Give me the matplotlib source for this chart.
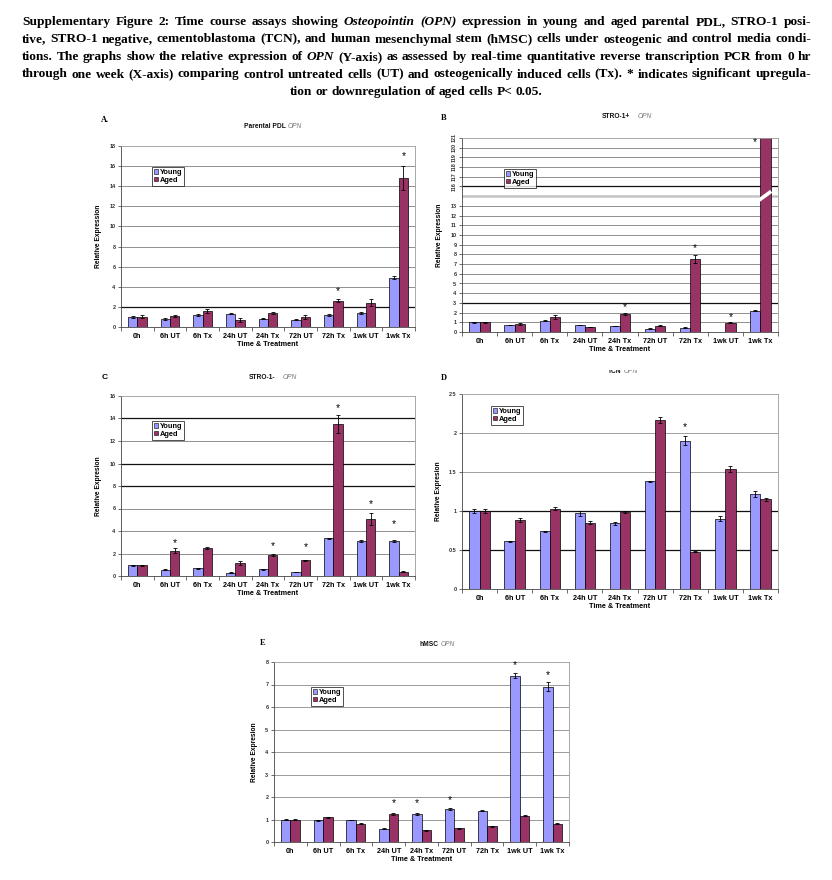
import numpy as np
import matplotlib
matplotlib.use('Agg')
import matplotlib.pyplot as plt
from matplotlib.transforms import Bbox, TransformedBbox

W, H = 832, 880

categories = ['0h', '6h UT', '6h Tx', '24h UT', '24h Tx', '72h UT', '72h Tx', '1wk UT', '1wk Tx']
series_names = ['Young', 'Aged']

# Panel A: Parental PDL
a_young = [1.0, 0.8, 1.2, 1.3, 0.8, 0.7, 1.2, 1.4, 4.9]
a_young_err = [0.12, 0.08, 0.1, 0.05, 0.05, 0.05, 0.08, 0.06, 0.15]
a_aged = [1.0, 1.1, 1.6, 0.7, 1.4, 1.0, 2.6, 2.4, 14.8]
a_aged_err = [0.15, 0.08, 0.22, 0.2, 0.12, 0.2, 0.15, 0.35, 1.2]
a_stars = [(6, 'aged', 3.6), (8, 'aged', 17.0)]

# Panel B: STRO-1+ (broken axis 13 -> 116)
b_young = [1.0, 0.72, 1.15, 0.72, 0.62, 0.35, 0.45, np.nan, 2.2]
b_young_err = [0.03, 0.03, 0.04, 0.02, 0.03, 0.02, 0.04, 0.0, 0.08]
b_aged = [1.0, 0.8, 1.55, 0.52, 1.85, 0.65, 7.55, 0.95, 121.5]
b_aged_err = [0.05, 0.1, 0.25, 0.03, 0.1, 0.04, 0.4, 0.04, 0.0]
b_stars = [(4, 'aged', 2.6), (6, 'aged', 8.7), (7, 'aged', 1.55), (8, 'young', 120.6)]
b_tick_values = [0, 1, 2, 3, 4, 5, 6, 7, 8, 9, 10, 11, 12, 13, 116, 117, 118, 119, 120, 121]

# Panel C: STRO-1-
c_young = [0.95, 0.55, 0.7, 0.3, 0.6, 0.35, 3.35, 3.1, 3.1]
c_young_err = [0.03, 0.03, 0.04, 0.02, 0.04, 0.03, 0.05, 0.1, 0.06]
c_aged = [0.95, 2.25, 2.5, 1.15, 1.9, 1.4, 13.55, 5.05, 0.4]
c_aged_err = [0.04, 0.2, 0.12, 0.15, 0.1, 0.06, 0.8, 0.55, 0.06]
c_stars = [(1, 'aged', 2.9), (4, 'aged', 2.7), (5, 'aged', 2.6), (6, 'aged', 14.9), (7, 'aged', 6.4), (8, 'young', 4.6)]

# Panel D: TCN
d_young = [1.0, 0.61, 0.74, 0.97, 0.84, 1.38, 1.9, 0.9, 1.22]
d_young_err = [0.02, 0.006, 0.006, 0.03, 0.02, 0.01, 0.06, 0.03, 0.04]
d_aged = [1.0, 0.88, 1.03, 0.85, 0.99, 2.17, 0.48, 1.54, 1.15]
d_aged_err = [0.03, 0.025, 0.015, 0.02, 0.015, 0.04, 0.01, 0.04, 0.02]
d_stars = [(6, 'young', 2.07)]

# Panel E: hMSC
e_young = [1.0, 0.96, 0.98, 0.6, 1.25, 1.47, 1.4, 7.4, 6.9]
e_young_err = [0.02, 0.03, 0.02, 0.02, 0.03, 0.04, 0.02, 0.12, 0.2]
e_aged = [1.0, 1.1, 0.82, 1.23, 0.52, 0.62, 0.7, 1.17, 0.82]
e_aged_err = [0.02, 0.03, 0.02, 0.05, 0.01, 0.02, 0.03, 0.03, 0.02]
e_stars = [(3, 'aged', 1.72), (4, 'young', 1.72), (5, 'young', 1.87), (7, 'young', 7.88), (8, 'young', 7.43)]

caption_lines = [
    [("Supplementary Figure 2: Time course assays showing", False), ("Osteopointin (OPN)", True),
     ("expression in young and aged parental PDL, STRO-1 posi-", False)],
    [("tive, STRO-1 negative, cementoblastoma (TCN), and human mesenchymal stem (hMSC) cells under osteogenic and control media condi-", False)],
    [("tions. The graphs show the relative expression of", False), ("OPN", True),
     ("(Y-axis) as assessed by real-time quantitative reverse transcription PCR from 0 hr", False)],
    [("through one week (X-axis) comparing control untreated cells (UT) and osteogenically induced cells (Tx). * indicates significant upregula-", False)],
    [("tion or downregulation of aged cells P< 0.05.", False)],
]

YOUNG_C = '#9999FF'
AGED_C = '#993366'
SANS = 'Liberation Sans'
SERIF = 'Liberation Serif'

fig = plt.figure(figsize=(W / 100, H / 100), dpi=100)
renderer = fig.canvas.get_renderer()


def fx(x):
    return x / W


def fy(y):
    return 1 - y / H


def text_width(s, **kw):
    t = fig.text(0, 0, s, **kw)
    w = t.get_window_extent(renderer).width
    t.remove()
    return w


def rich(x_px, y_px, segs, gap_px=None, clip=None):
    objs, widths = [], []
    for s, p in segs:
        t = fig.text(0, 0, s, ha='left', va='center', **p)
        objs.append(t)
        widths.append(t.get_window_extent(renderer).width)
    if gap_px is None:
        gap_px = text_width('a a', **segs[0][1]) - text_width('aa', **segs[0][1])
    total = sum(widths) + gap_px * (len(segs) - 1)
    x = x_px - total / 2
    for t, w in zip(objs, widths):
        t.set_position((fx(x), fy(y_px)))
        if clip is not None:
            t.set_clip_box(clip)
            t.set_clip_on(True)
        x += w + gap_px


# ---------------- caption ----------------
def caption_words(line):
    words = []
    for s, it in line:
        for w in s.split(' '):
            if w:
                words.append((w, it))
    return words


def cap_props(fs, it):
    return dict(family=SERIF, weight='bold', style='italic' if it else 'normal', fontsize=fs)


fs0 = 10.0
left, right = 22, 811
target = right - left
maxnat = 0
for line in caption_lines[:4]:
    ws = caption_words(line)
    sp = text_width('a a', **cap_props(fs0, False)) - text_width('aa', **cap_props(fs0, False))
    nat = sum(text_width(w, **cap_props(fs0, it)) for w, it in ws) + sp * (len(ws) - 1)
    maxnat = max(maxnat, nat)
fs = fs0 * min(1.0, target / maxnat * 0.995)

line_y = [22, 39.5, 57, 74.5, 92]
for li, line in enumerate(caption_lines):
    ws = caption_words(line)
    wid = [text_width(w, **cap_props(fs, it)) for w, it in ws]
    sp = text_width('a a', **cap_props(fs, False)) - text_width('aa', **cap_props(fs, False))
    if li < 4:
        gap = (target - sum(wid)) / (len(ws) - 1)
        x = left
    else:
        gap = sp
        x = W / 2 - (sum(wid) + sp * (len(ws) - 1)) / 2
    for (w, it), wd in zip(ws, wid):
        fig.text(fx(x), fy(line_y[li]), w, ha='left', va='center', **cap_props(fs, it))
        x += wd + gap


# ---------------- panels ----------------
def panel(rect, young, young_err, aged, aged_err, ylim, yticks, yticklabels, grid_specs,
          stars, ylabel, legend_px, fmap=None, ytick_rot=0):
    x0, y0, x1, y1 = rect
    ax = fig.add_axes([fx(x0), fy(y1), (x1 - x0) / W, (y1 - y0) / H])
    if fmap is None:
        fmap = lambda v: v
    x = np.arange(len(categories))
    w = 0.29
    yv = np.array([fmap(v) for v in young], dtype=float)
    av = np.array([fmap(v) for v in aged], dtype=float)
    ax.bar(x - w / 2, yv, w, color=YOUNG_C, edgecolor='black', linewidth=0.5, label=series_names[0], zorder=2)
    ax.bar(x + w / 2, av, w, color=AGED_C, edgecolor='black', linewidth=0.5, label=series_names[1], zorder=2)
    ye = np.array(young_err, dtype=float)
    ae = np.array(aged_err, dtype=float)
    m = (~np.isnan(yv)) & (ye > 0)
    ax.errorbar((x - w / 2)[m], yv[m], yerr=ye[m], fmt='none', ecolor='black', elinewidth=0.6,
                capsize=1.3, capthick=0.6, zorder=3)
    m = (~np.isnan(av)) & (ae > 0)
    ax.errorbar((x + w / 2)[m], av[m], yerr=ae[m], fmt='none', ecolor='black', elinewidth=0.6,
                capsize=1.3, capthick=0.6, zorder=3)
    for ci, ser, yy in stars:
        xs = ci - w / 2 if ser == 'young' else ci + w / 2
        ax.text(xs, fmap(yy), '*', ha='center', va='center', fontsize=7.5, family=SANS, zorder=4)
    for pos, col, lw in grid_specs:
        ax.axhline(pos, color=col, linewidth=lw, zorder=1)
    ax.set_xlim(-0.5, len(categories) - 0.5)
    ax.set_ylim(*ylim)
    ax.set_yticks(yticks)
    ax.set_yticklabels(yticklabels, fontsize=4, family=SANS, weight='bold')
    if ytick_rot:
        for lab in ax.get_yticklabels():
            if lab.get_text() in ('116', '117', '118', '119', '120', '121'):
                lab.set_rotation(90)
                lab.set_va('center')
    ax.tick_params(axis='y', direction='out', length=2, width=0.5, pad=2, colors='#333333')
    ax.set_xticks(np.arange(-0.5, len(categories), 1.0))
    ax.set_xticklabels([])
    ax.set_xticks(x, minor=True)
    ax.set_xticklabels(categories, minor=True, fontsize=5.2, family=SANS, weight='bold')
    ax.tick_params(axis='x', which='major', direction='out', length=3, width=0.5, colors='#333333')
    ax.tick_params(axis='x', which='minor', length=0, pad=4)
    ax.set_xlabel('Time & Treatment', fontsize=5.2, family=SANS, weight='bold', labelpad=1)
    ax.set_ylabel(ylabel, fontsize=4.8, family=SANS, weight='bold', labelpad=5)
    for s in ('top', 'right'):
        ax.spines[s].set_color('#9a9a9a')
        ax.spines[s].set_linewidth(0.6)
    for s in ('left', 'bottom'):
        ax.spines[s].set_color('#444444')
        ax.spines[s].set_linewidth(0.6)
    lx, ly = legend_px
    leg = ax.legend(loc='upper left', bbox_to_anchor=(fx(lx), fy(ly)), bbox_transform=fig.transFigure,
                    prop=dict(family=SANS, weight='bold', size=5.3), frameon=True, fancybox=False,
                    handlelength=0.6, handleheight=0.6, handletextpad=0.2, borderpad=0.25,
                    labelspacing=0.12, borderaxespad=0)
    leg.get_frame().set_edgecolor('black')
    leg.get_frame().set_linewidth(0.6)
    for h in leg.legend_handles:
        h.set_linewidth(0.4)
    return ax


def grid_std(vals, dark=(), col='#8f8f8f'):
    out = []
    for v in vals:
        if v in dark:
            out.append((v, '#111111', 0.9))
        else:
            out.append((v, col, 0.7))
    return out


# A
ticksA = list(range(0, 19, 2))
panel((121, 146, 415, 327), a_young, a_young_err, a_aged, a_aged_err, (0, 18), ticksA,
      [str(t) for t in ticksA], grid_std(ticksA[1:-1], dark=(2,)), a_stars, 'Relative Expression', (152, 167))


# B
def bmap(v):
    return v if v <= 14 else v - 101


posB = [bmap(v) for v in b_tick_values]
gridB = []
for p in range(1, 20):
    if p == 14:
        gridB.append((p, '#c4c4c4', 1.8))
    elif p in (3, 15):
        gridB.append((p, '#111111', 0.9))
    else:
        gridB.append((p, '#8f8f8f', 0.7))
axB = panel((462, 138, 778, 332), b_young, b_young_err, b_aged, b_aged_err, (0, 20), posB,
            [str(v) for v in b_tick_values], gridB, b_stars, 'Relative Expression', (504, 169),
            fmap=bmap, ytick_rot=1)
# break mark on the tall bar
xb = 8 + 0.29 / 2
axB.plot([xb - 0.2, xb + 0.16], [13.55, 14.5], color='white', linewidth=2.6, solid_capstyle='butt',
         zorder=5, clip_on=False)

# C
ticksC = list(range(0, 17, 2))
panel((121, 396, 415, 576), c_young, c_young_err, c_aged, c_aged_err, (0, 16), ticksC,
      [str(t) for t in ticksC], grid_std(ticksC[1:-1], dark=(10, 14, 8)), c_stars, 'Relative Expresion', (152, 421))

# D
ticksD = [0, 0.5, 1, 1.5, 2, 2.5]
panel((462, 394, 778, 589), d_young, d_young_err, d_aged, d_aged_err, (0, 2.5), ticksD,
      ['0', '0.5', '1', '1.5', '2', '2.5'], grid_std(ticksD[1:-1], dark=(0.5, 1), col='#a0a0a0'), d_stars,
      'Relative Expresion', (491, 406))

# E
ticksE = list(range(0, 9))
panel((274, 662, 569, 842), e_young, e_young_err, e_aged, e_aged_err, (0, 8), ticksE,
      [str(t) for t in ticksE], grid_std(ticksE[1:-1], col='#9a9a9a'), e_stars, 'Relative Expresion', (311, 687))

# ---------------- titles & letters ----------------
tb = dict(family=SANS, weight='bold', fontsize=4.8, color='#111111')
ti = dict(family=SANS, style='italic', fontsize=4.8, color='#777777')
rich(273, 126, [('Parental PDL', tb), ('OPN', ti)])
rich(627, 117, [('STRO-1+', tb), ('OPN', ti)], gap_px=7)
rich(273, 377, [('STRO-1-', tb), ('OPN', ti)], gap_px=7)
clipD = TransformedBbox(Bbox.from_extents(0, 0, 1, 1 - 370 / H), fig.transFigure)
rich(623, 371, [('TCN', tb), ('OPN', ti)], clip=clipD)
rich(437, 644, [('hMSC', tb), ('OPN', ti)])

lb = dict(family=SERIF, weight='bold', fontsize=6, va='center', ha='left')
fig.text(fx(101), fy(120), 'A.', **lb)
fig.text(fx(441), fy(118), 'B', **lb)
fig.text(fx(102), fy(377), 'C', family=SANS, weight='bold', fontsize=6, va='center', ha='left')
fig.text(fx(441), fy(378), 'D', **lb)
fig.text(fx(260), fy(643), 'E', **lb)

fig.savefig('out.png', dpi=100)
